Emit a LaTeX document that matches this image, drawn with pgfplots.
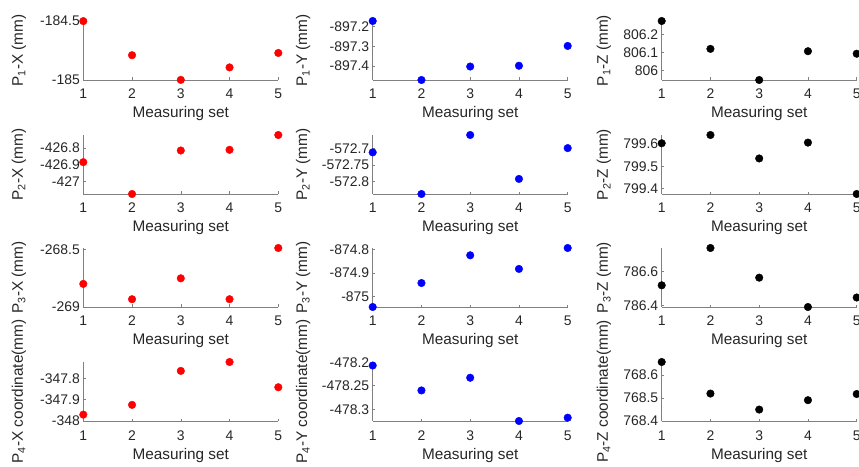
\documentclass[border=0pt]{standalone}
\usepackage{fontspec}
\setmainfont{Liberation Sans}
\usepackage{pgfplots}
\pgfplotsset{compat=1.18}

\definecolor{axgray}{RGB}{128,128,128}
\definecolor{txt}{RGB}{38,38,38}

\pgfplotsset{
  panel/.style={
    scale only axis, width=195bp, height=59bp,
    anchor=south west, clip=false,
    axis lines=left, axis line style={-, draw=axgray, line width=0.6bp},
    xmin=1, xmax=5, xtick={1,2,3,4,5},
    tick align=inside, major tick length=2.5bp,
    tick style={axgray, line width=0.5bp},
    /pgf/number format/assume math mode=true,
    ticklabel style={font=\fontsize{14}{16}\selectfont, text=txt},
    xticklabel style={anchor=base, yshift=-19bp},
    label style={font=\fontsize{15.4}{17}\selectfont, text=txt},
    xlabel={Measuring set},
    xlabel style={at={(axis description cs:0.5,0)}, anchor=base, yshift=-38bp},
    ylabel style={anchor=center},
  },
  col1/.style={ylabel style={at={(axis description cs:-0.33,0.5)}}},
  col2/.style={ylabel style={at={(axis description cs:-0.357,0.5)}}},
  col3/.style={ylabel style={at={(axis description cs:-0.296,0.5)}}},
  dot/.style={only marks, mark=*, mark size=3.8bp, mark options={draw=#1, fill=#1}},
}

\begin{document}
\begin{tikzpicture}
\useasboundingbox (0bp,0bp) rectangle (859bp,467bp);

% row 1
\begin{axis}[panel, col1, at={(83.3bp,387bp)}, ymin=-185.001, ymax=-184.499,
  ytick={-185,-184.5}, yticklabels={-185,-184.5},
  ylabel={P\textsubscript{1}-X (mm)}]
\addplot[dot=red] coordinates {(1,-184.5) (2,-184.79) (3,-185.0) (4,-184.894) (5,-184.771)};
\end{axis}
\begin{axis}[panel, col2, at={(372.7bp,387bp)}, ymin=-897.47, ymax=-897.172,
  ytick={-897.4,-897.3,-897.2}, yticklabels={-897.4,-897.3,-897.2},
  ylabel={P\textsubscript{1}-Y (mm)}]
\addplot[dot=blue] coordinates {(1,-897.172) (2,-897.47) (3,-897.402) (4,-897.398) (5,-897.298)};
\end{axis}
\begin{axis}[panel, col3, at={(661.7bp,387bp)}, ymin=805.947, ymax=806.275,
  ytick={806,806.1,806.2}, yticklabels={806,806.1,806.2},
  ylabel={P\textsubscript{1}-Z (mm)}]
\addplot[dot=black] coordinates {(1,806.275) (2,806.12) (3,805.947) (4,806.107) (5,806.093)};
\end{axis}

% row 2
\begin{axis}[panel, col1, at={(83.3bp,273bp)}, ymin=-427.077, ymax=-426.723,
  ytick={-427,-426.9,-426.8}, yticklabels={-427,-426.9,-426.8},
  ylabel={P\textsubscript{2}-X (mm)}]
\addplot[dot=red] coordinates {(1,-426.886) (2,-427.077) (3,-426.816) (4,-426.812) (5,-426.723)};
\end{axis}
\begin{axis}[panel, col2, at={(372.7bp,273bp)}, ymin=-572.839, ymax=-572.659,
  ytick={-572.8,-572.75,-572.7}, yticklabels={-572.8,-572.75,-572.7},
  ylabel={P\textsubscript{2}-Y (mm)}]
\addplot[dot=blue] coordinates {(1,-572.712) (2,-572.839) (3,-572.659) (4,-572.793) (5,-572.699)};
\end{axis}
\begin{axis}[panel, col3, at={(661.7bp,273bp)}, ymin=799.376, ymax=799.64,
  ytick={799.4,799.5,799.6}, yticklabels={799.4,799.5,799.6},
  ylabel={P\textsubscript{2}-Z (mm)}]
\addplot[dot=black] coordinates {(1,799.603) (2,799.64) (3,799.535) (4,799.606) (5,799.376)};
\end{axis}

% row 3
\begin{axis}[panel, col1, at={(83.3bp,160bp)}, ymin=-269.001, ymax=-268.485,
  ytick={-269,-268.5}, yticklabels={-269,-268.5},
  ylabel={P\textsubscript{3}-X (mm)}]
\addplot[dot=red] coordinates {(1,-268.799) (2,-268.933) (3,-268.75) (4,-268.933) (5,-268.485)};
\end{axis}
\begin{axis}[panel, col2, at={(372.7bp,160bp)}, ymin=-875.045, ymax=-874.794,
  ytick={-875,-874.9,-874.8}, yticklabels={-875,-874.9,-874.8},
  ylabel={P\textsubscript{3}-Y (mm)}]
\addplot[dot=blue] coordinates {(1,-875.045) (2,-874.943) (3,-874.825) (4,-874.883) (5,-874.794)};
\end{axis}
\begin{axis}[panel, col3, at={(661.7bp,160bp)}, ymin=786.392, ymax=786.74,
  ytick={786.4,786.6}, yticklabels={786.4,786.6},
  ylabel={P\textsubscript{3}-Z (mm)}]
\addplot[dot=black] coordinates {(1,786.52) (2,786.74) (3,786.565) (4,786.392) (5,786.448)};
\end{axis}

% row 4
\begin{axis}[panel, col1, at={(83.3bp,46bp)}, ymin=-348.001, ymax=-347.723,
  ytick={-348,-347.9,-347.8}, yticklabels={-348,-347.9,-347.8},
  ylabel={P\textsubscript{4}-X coordinate(mm)}]
\addplot[dot=red] coordinates {(1,-347.971) (2,-347.925) (3,-347.765) (4,-347.723) (5,-347.842)};
\end{axis}
\begin{axis}[panel, col2, at={(372.7bp,46bp)}, ymin=-478.325, ymax=-478.1995,
  ytick={-478.3,-478.25,-478.2}, yticklabels={-478.3,-478.25,-478.2},
  ylabel={P\textsubscript{4}-Y coordinate(mm)}]
\addplot[dot=blue] coordinates {(1,-478.207) (2,-478.26) (3,-478.233) (4,-478.325) (5,-478.318)};
\end{axis}
\begin{axis}[panel, col3, at={(661.7bp,46bp)}, ymin=768.399, ymax=768.657,
  ytick={768.4,768.5,768.6}, yticklabels={768.4,768.5,768.6},
  ylabel={P\textsubscript{4}-Z coordinate(mm)}]
\addplot[dot=black] coordinates {(1,768.657) (2,768.519) (3,768.449) (4,768.49) (5,768.517)};
\end{axis}
\end{tikzpicture}
\end{document}
